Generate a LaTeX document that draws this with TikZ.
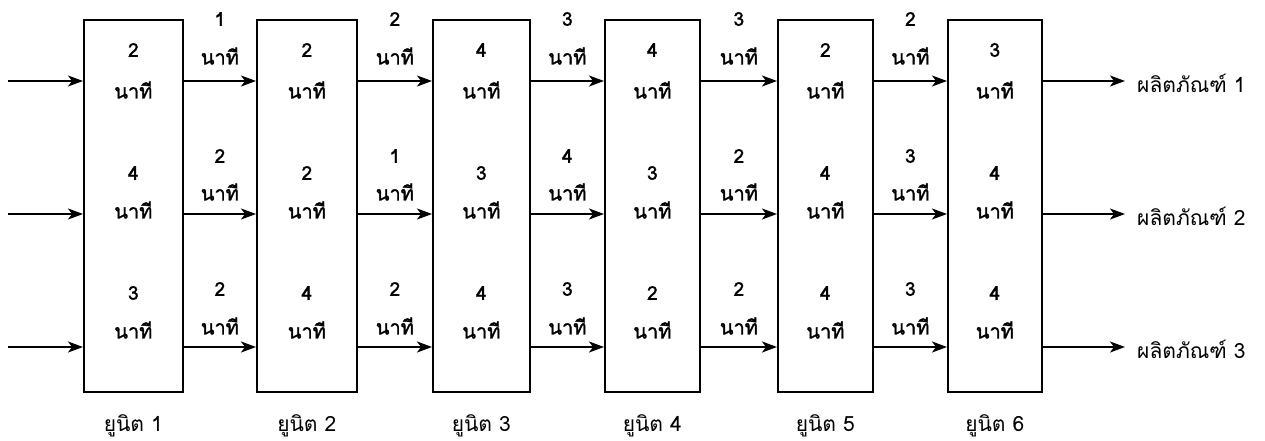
\documentclass[tikz,border=0pt]{standalone}
\usepackage{fontspec}
\usetikzlibrary{arrows.meta,calc}
\newfontfamily\thaifont[Script=Thai]{Loma}
\newfontfamily\thaiheavy[Script=Thai,FakeBold=1.6]{Loma}
\begin{document}
\begin{tikzpicture}[x=1pt,y=-1pt,
  unitbox/.style={draw,line width=1.7pt,inner sep=0pt,anchor=north west,minimum height=372pt},
  num/.style={font=\thaiheavy\fontsize{19}{20}\selectfont,inner sep=0pt},
  lbl/.style={font=\thaiheavy\fontsize{20}{22}\selectfont,inner sep=0pt},
  unitcaption/.style={font=\thaifont\fontsize{21}{22}\selectfont,inner sep=0pt},
  prod/.style={unitcaption,anchor=west},
  flow/.style={line width=1.7pt,-{Stealth[length=15pt,width=11pt,inset=4pt]}}]
\useasboundingbox (0,0) rectangle (1265,441);

% rows of the three flows
\coordinate (row1) at (0,81);
\coordinate (row2) at (0,214);
\coordinate (row3) at (0,347);

% the six units with their process times
\foreach \i/\l/\w/\a/\b/\c in {1/83/99/2/4/3, 2/256/100/2/2/4, 3/432/97/4/3/4,
                               4/604/95/4/3/2, 5/777/95/2/4/4, 6/947/94/3/4/4}{
  \node[unitbox,minimum width=\w pt] (u\i) at (\l,19) {};
  \node[num] (u\i n1) at (u\i.north |- 0,50) {\a};
  \node[lbl] (u\i m1) at (u\i.north |- 0,90) {นาที};
  \node[num] (u\i n2) at (u\i.north |- 0,173) {\b};
  \node[lbl] (u\i m2) at (u\i.north |- 0,210) {นาที};
  \node[num] (u\i n3) at (u\i.north |- 0,293) {\c};
  \node[lbl] (u\i m3) at (u\i.north |- 0,330) {นาที};
  \node[unitcaption] (u\i lab) at (u\i.north |- 0,426) {ยูนิต \i};
}

% transfers between consecutive units
\foreach \i/\j/\a/\b/\c in {1/2/1/2/2, 2/3/2/1/2, 3/4/3/4/3, 4/5/3/2/2, 5/6/2/3/3}{
  \path ($(u\i.east)!.5!(u\j.west)$) coordinate (g\i);
  \draw[flow] (u\i.east |- row1) -- (u\j.west |- row1);
  \draw[flow] (u\i.east |- row2) -- (u\j.west |- row2);
  \draw[flow] (u\i.east |- row3) -- (u\j.west |- row3);
  \node[num] (g\i n1) at (g\i |- 0,19) {\a};
  \node[lbl] (g\i m1) at (g\i |- 0,56) {นาที};
  \node[num] (g\i n2) at (g\i |- 0,156) {\b};
  \node[lbl] (g\i m2) at (g\i |- 0,192) {นาที};
  \node[num] (g\i n3) at (g\i |- 0,289) {\c};
  \node[lbl] (g\i m3) at (g\i |- 0,326) {นาที};
}

% inputs into unit 1
\foreach \r in {1,2,3}{
  \coordinate (in\r) at (8,0 |- row\r);
  \draw[flow] (in\r) -- (u1.west |- row\r);
}

% outputs from unit 6
\foreach \r in {1,2,3}{
  \coordinate (out\r) at (1125,0 |- row\r);
  \draw[flow] (u6.east |- row\r) -- (out\r);
  \node[prod] (p\r) at ([xshift=12pt,yshift=-2pt]out\r) {ผลิตภัณฑ์ \r};
}
\end{tikzpicture}
\end{document}
